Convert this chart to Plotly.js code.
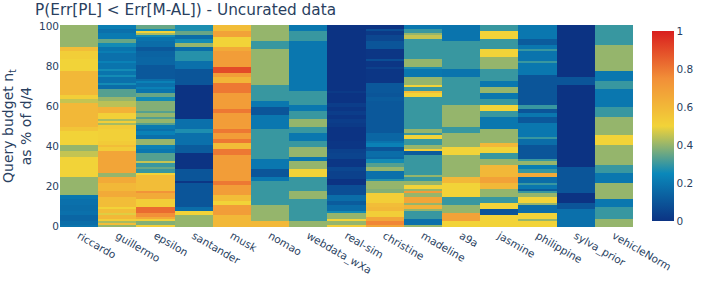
<!DOCTYPE html>
<html><head><meta charset="utf-8">
<script src="https://cdn.plot.ly/plotly-3.0.1.min.js"></script>
<style>html,body{margin:0;padding:0;background:#fff}#c{width:702px;height:281px}</style>
</head><body><div id="c"></div>
<script>
// Each column: [value, number of budget rows], reading from budget 100 down to 0.
const categories=["riccardo","guillermo","epsilon","santander","musk","nomao","webdata_wXa","real-sim","christine","madeline","a9a","jasmine","philippine","sylva_prior","vehicleNorm"];
const riccardo=[[.4,11],[.58,2],[.52,4],[.5,6],[.6,12],[.52,2],[.45,2],[.6,12],[.55,2],[.5,7],[.4,3],[.45,3],[.5,10],[.4,9],[.2,2],[.18,3],[.17,3],[.18,2],[.15,3],[.17,2],[.19,1]];
const guillermo=[[.22,2],[.18,2],[.21,3],[.35,2],[.26,2],[.19,2],[.22,1],[.18,4],[.23,1],[.19,3],[.26,1],[.19,2],[.26,1],[.18,3],[.26,1],[.17,2],[.33,4],[.4,2],[.44,3],[.62,3],[.51,3],[.42,1],[.52,1],[.42,1],[.53,2],[.51,6],[.53,2],[.58,1],[.53,2],[.67,11],[.4,2],[.65,3],[.6,4],[.65,3],[.58,5],[.5,1],[.58,2],[.48,1],[.6,2],[.52,1],[.42,1],[.58,1],[.4,1]];
const epsilon=[[.35,2],[.26,1],[.5,1],[.42,1],[.26,1],[.19,2],[.17,3],[.11,2],[.14,3],[.15,4],[.11,7],[.17,1],[.23,1],[.18,2],[.23,1],[.19,2],[.35,2],[.26,2],[.38,5],[.33,1],[.4,2],[.33,1],[.4,2],[.33,1],[.21,2],[.18,1],[.23,2],[.18,2],[.4,3],[.23,2],[.2,2],[.33,4],[.45,1],[.3,2],[.35,1],[.3,2],[.5,1],[.58,8],[.73,1],[.65,3],[.52,4],[.83,3],[.75,2],[.65,1],[.52,1],[.38,2],[.52,1]];
const santander=[[.27,3],[.35,2],[.17,2],[.26,2],[.4,2],[.17,2],[.28,5],[.18,4],[.1,8],[0,17],[.18,5],[.27,2],[.18,6],[.12,4],[0,8],[.1,6],[.01,1],[.1,12],[.17,2],[.5,2],[.4,6]];
const musk=[[.58,3],[.68,3],[.5,5],[.65,2],[.7,8],[.9,3],[.7,2],[.61,3],[.8,5],[.7,8],[.8,2],[.7,7],[.69,1],[.8,2],[.7,3],[.8,2],[.58,3],[.8,3],[.7,13],[.8,2],[.7,5],[.58,3],[.5,2],[.7,5],[.6,6]];
const nomao=[[.4,8],[.3,4],[.4,18],[.3,8],[.2,3],[.1,4],[.2,7],[.3,15],[.2,5],[.1,4],[.2,2],[.3,12],[.4,8],[.6,3]];
const webdata_wXa=[[.2,3],[.3,5],[.2,25],[.3,7],[.2,3],[.3,4],[.4,4],[.3,3],[.2,4],[.3,3],[.4,5],[.2,2],[.4,4],[.5,4],[.3,7],[.4,4],[.3,11],[.4,3]];
const realSim=[[0,33],[.02,1],[0,5],[.03,2],[.01,2],[.03,2],[.01,2],[.03,2],[.02,2],[0,7],[.01,4],[.04,2],[.05,3],[.01,4],[.06,2],[.04,4],[0,3],[.08,5],[.17,3],[.12,2],[.17,3],[.26,1],[.4,3],[.5,1],[.4,2],[.52,1]];
const christine=[[0,2],[.08,1],[.02,2],[.06,3],[.1,4],[.01,5],[.08,1],[.01,3],[.04,1],[.01,7],[.11,5],[.1,2],[.12,2],[.11,16],[.15,4],[.19,1],[.23,2],[.1,2],[.17,3],[.15,1],[.26,2],[.33,2],[.4,2],[.18,4],[.28,1],[.4,4],[.38,2],[.52,5],[.58,2],[.6,2],[.52,3],[.67,2],[.77,2],[.67,1]];
const madeline=[[.2,2],[.3,2],[.4,1],[.45,2],[.3,10],[.4,4],[.27,1],[.2,4],[.4,4],[.5,1],[.3,2],[.58,1],[.5,2],[.3,16],[.4,2],[.3,1],[.5,2],[.3,3],[.4,2],[.52,1],[.12,2],[.3,10],[.4,1],[.3,2],[.4,2],[.5,2],[.4,1],[.7,1],[.4,2],[.67,3],[.4,1],[.62,2],[.4,1],[.3,4],[.18,3],[.4,1]];
const a9a=[[.19,8],[.3,14],[.19,4],[.3,14],[.4,11],[.3,3],[.4,7],[.5,4],[.4,11],[.6,3],[.5,7],[.3,4],[.4,4],[.68,4],[.5,3]];
const jasmine=[[.3,3],[.5,4],[.3,5],[.5,4],[.4,6],[.3,6],[.2,3],[.4,3],[.2,3],[.3,3],[.5,3],[.3,3],[.2,6],[.4,7],[.6,2],[.5,3],[.3,3],[.4,3],[.6,6],[.68,3],[.6,3],[.4,4],[.3,3],[.5,3],[.1,3],[.5,6]];
const philippine=[[.2,7],[.12,3],[.2,2],[.3,1],[.19,5],[.3,1],[.2,6],[.1,15],[.3,2],[.1,2],[.2,2],[.11,3],[.2,7],[.3,1],[.17,3],[.1,7],[.3,1],[.4,2],[.22,2],[.3,2],[.65,2],[.17,3],[.3,1],[.2,2],[.12,1],[.3,1],[.4,2],[.5,3],[.4,1],[.17,4],[.5,3],[.4,1],[.5,3]];
const sylva_prior=[[0,26],[.1,4],[0,41],[.1,13],[0,5],[.1,3],[.18,9]];
const vehicleNorm=[[.3,10],[.4,13],[.2,5],[.3,4],[.2,9],[.3,5],[.4,9],[.5,5],[.4,10],[.3,4],[.2,5],[.4,8],[.2,4],[.3,6],[.4,4]];
const columns=[riccardo,guillermo,epsilon,santander,musk,nomao,webdata_wXa,realSim,christine,madeline,a9a,jasmine,philippine,sylva_prior,vehicleNorm];
const budgets=[];for(let i=0;i<=100;i++)budgets.push(i);
function expand(runs){const o=[];runs.forEach(r=>{for(let i=0;i<r[1];i++)o.push(r[0]);});
  while(o.length<101)o.push(o[o.length-1]);o.length=101;return o.reverse();}
const cols=columns.map(expand);
const z=budgets.map((_,r)=>cols.map(c=>c[r]));
const ink='#2a3f5f';
const face='"DejaVu Sans", verdana, arial, sans-serif';
Plotly.newPlot('c',[{type:'heatmap',x:categories,y:budgets,z:z,zmin:0,zmax:1,colorscale:'Portland',
  colorbar:{thickness:22,x:1.031,xanchor:'left',xpad:0,len:1,ypad:6,outlinewidth:0,tickvals:[0,.2,.4,.6,.8,1],ticktext:['0','0.2','0.4','0.6','0.8','1'],tickfont:{size:10.5,color:ink},ticks:''}}],
 {width:702,height:281,margin:{l:60,r:68,t:25,b:54},paper_bgcolor:'#fff',plot_bgcolor:'#fff',
  font:{family:face,size:12,color:ink},
  title:{text:'P(Err[PL] < Err[M-AL]) - Uncurated data',x:0.05,xanchor:'left',y:0.99,yanchor:'top',pad:{t:1},font:{size:15.3,color:ink,family:face}},
  xaxis:{type:'category',tickangle:30,ticks:'',tickfont:{size:10.5,color:ink},showgrid:false,zeroline:false,automargin:false},
  yaxis:{title:{text:'Query budget n<sub>t</sub><br>as % of d/4',font:{size:14,color:ink},standoff:6},tickvals:[0,20,40,60,80,100],ticks:'',tickfont:{size:10.5,color:ink},showgrid:false,zeroline:false}
 },{displayModeBar:false,responsive:false});
</script></body></html>
